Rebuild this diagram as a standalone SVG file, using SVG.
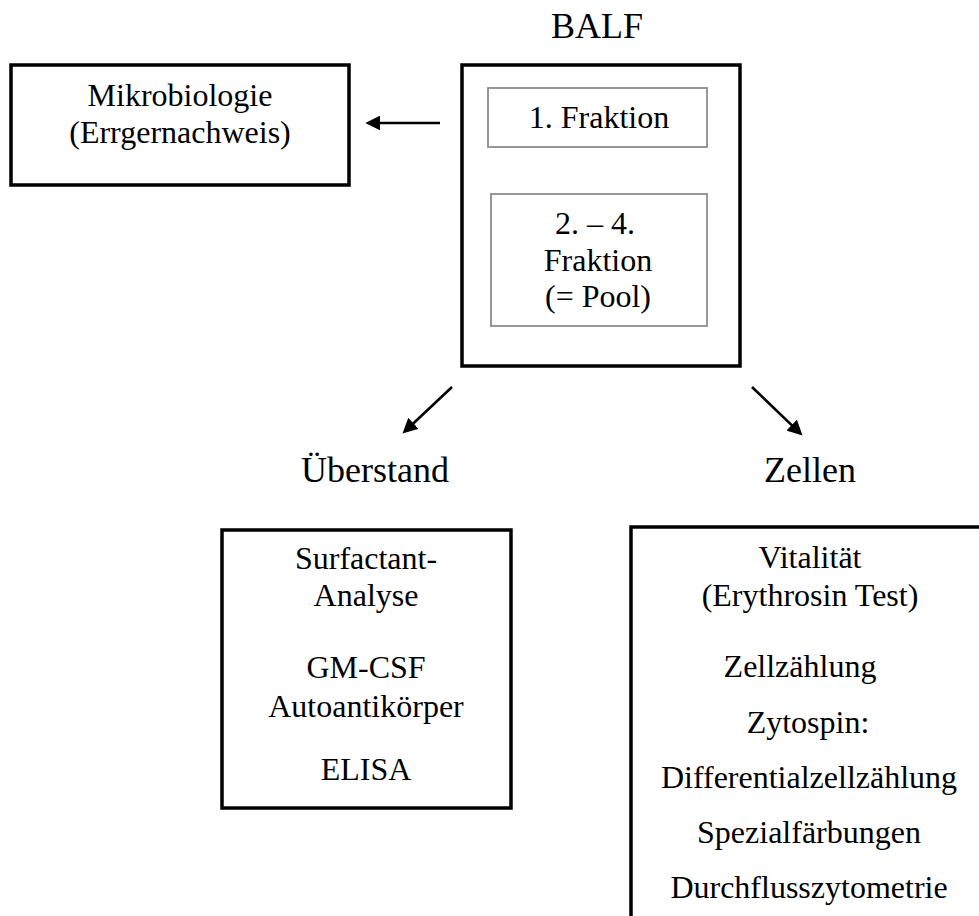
<svg xmlns="http://www.w3.org/2000/svg" width="979" height="916" viewBox="0 0 979 916">
<defs>
<style>
.box{fill:none;stroke:#000;stroke-width:3.5}
.inner{fill:none;stroke:#8c8c8c;stroke-width:1.8}
.t{font-family:"Liberation Serif","Times New Roman",serif;font-size:32px;fill:#000;text-anchor:middle}
.big{font-size:36px}
.conn{stroke:#000;stroke-width:2.6;fill:none}
</style>
<marker id="ah" markerUnits="userSpaceOnUse" markerWidth="15" markerHeight="15" viewBox="0 0 14 14" refX="4" refY="7" orient="auto">
<path d="M0,0 L14,7 L0,14 z" fill="#000"/>
</marker>
</defs>
<rect width="979" height="916" fill="#fff"/>

<g id="balf">
<text class="t big" x="597" y="38">BALF</text>
<rect class="box" x="462" y="65" width="278" height="301"/>
</g>

<g id="fraktion1">
<rect class="inner" x="488" y="88" width="219" height="59"/>
<text class="t" x="599" y="128">1. Fraktion</text>
</g>

<g id="fraktion2">
<rect class="inner" x="491" y="194" width="216" height="132"/>
<text class="t" x="595" y="234">2. – 4.</text>
<text class="t" x="598" y="271">Fraktion</text>
<text class="t" x="598" y="307">(= Pool)</text>
</g>

<g id="mikrobiologie">
<rect class="box" x="11" y="65" width="338" height="120"/>
<text class="t" x="180" y="106">Mikrobiologie</text>
<text class="t" x="180" y="143">(Errgernachweis)</text>
</g>

<g id="ueberstand">
<text class="t big" x="375" y="482">Überstand</text>
</g>

<g id="zellen">
<text class="t big" x="810" y="482">Zellen</text>
</g>

<g id="ueberstand-box">
<rect class="box" x="222" y="530" width="289" height="278"/>
<text class="t" x="366" y="569">Surfactant-</text>
<text class="t" x="366" y="606">Analyse</text>
<text class="t" x="366" y="678">GM-CSF</text>
<text class="t" x="366" y="717">Autoantikörper</text>
<text class="t" x="366" y="780">ELISA</text>
</g>

<g id="zellen-box">
<rect class="box" x="631" y="527" width="400" height="450"/>
<text class="t" x="810" y="568">Vitalität</text>
<text class="t" x="810" y="606">(Erythrosin Test)</text>
<text class="t" x="800" y="677">Zellzählung</text>
<text class="t" x="808" y="733">Zytospin:</text>
<text class="t" x="809" y="788">Differentialzellzählung</text>
<text class="t" x="809" y="843">Spezialfärbungen</text>
<text class="t" x="809" y="898">Durchflusszytometrie</text>
</g>

<g id="connectors">
<line class="conn" x1="440" y1="123" x2="376" y2="123" marker-end="url(#ah)"/>
<line class="conn" x1="452" y1="387" x2="410.3" y2="426.2" marker-end="url(#ah)"/>
<line class="conn" x1="752" y1="387" x2="794.8" y2="428.1" marker-end="url(#ah)"/>
</g>
</svg>
